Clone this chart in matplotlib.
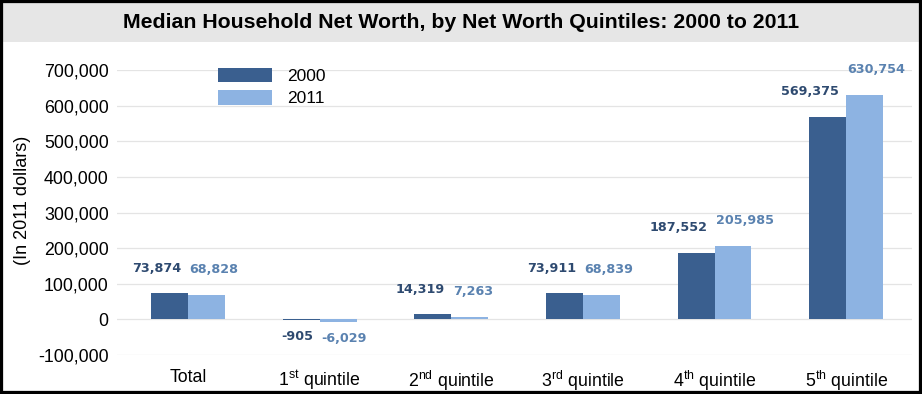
#!/usr/bin/env python3
# -*- coding: utf-8 -*-
"""
Median household net worth by net worth quintiles, 2000 vs 2011.
Grouped bar chart with value labels, saved as out.png.
"""

import numpy as np
import matplotlib.pyplot as plt
from matplotlib.patches import Rectangle

# Data (in 2011 dollars)
categories = ["Total",
              "1$^{\\mathrm{st}}$ quintile",
              "2$^{\\mathrm{nd}}$ quintile",
              "3$^{\\mathrm{rd}}$ quintile",
              "4$^{\\mathrm{th}}$ quintile",
              "5$^{\\mathrm{th}}$ quintile"]
worth_2000 = [73874, -905, 14319, 73911, 187552, 569375]
worth_2011 = [68828, -6029, 7263, 68839, 205985, 630754]
series_labels = ["2000", "2011"]
y_ticks = list(range(-100000, 700001, 100000))

DARK = "#3a5f8f"
LIGHT = "#8db3e2"
DARK_TXT = "#2e4a70"
LIGHT_TXT = "#5a82b0"

plt.rcParams['font.family'] = ['Liberation Sans', 'DejaVu Sans']
plt.rcParams['mathtext.fontset'] = 'custom'
plt.rcParams['mathtext.rm'] = 'Liberation Sans'

fig = plt.figure(figsize=(9.22, 3.94), dpi=100)
ax = fig.add_axes([117 / 922, 1 - 355 / 394, 795 / 922, 285 / 394])

x = np.arange(len(categories))
w = 0.28
ax.bar(x - w / 2, worth_2000, w, color=DARK, label=series_labels[0], zorder=3)
ax.bar(x + w / 2, worth_2011, w, color=LIGHT, label=series_labels[1], zorder=3)

# value labels: 2000 to the left of the group centre, 2011 to the right
for vals, col, dx, ha in ((worth_2000, DARK_TXT, -5, "right"),
                          (worth_2011, LIGHT_TXT, 1, "left")):
    for xi, v in zip(x, vals):
        dy = 18 if v >= 0 else -12
        ax.annotate(f"{v:,}", (xi, v), xytext=(dx, dy), textcoords="offset points",
                    ha=ha, va="center", fontsize=9.2, fontweight="bold",
                    family=["DejaVu Sans"], color=col, annotation_clip=False)

ax.set_xlim(-0.54, 5.5)
ax.set_ylim(-100000, 700000)
ax.set_yticks(y_ticks)
ax.set_yticklabels([f"{t:,}" for t in y_ticks])
ax.set_xticks(x)
ax.set_xticklabels(categories)
ax.tick_params(axis="both", length=0, labelsize=12.8)
ax.tick_params(axis="x", pad=10)
ax.tick_params(axis="y", pad=6)
ax.grid(axis="y", color="#e4e4e4", linewidth=0.9, zorder=0)
for s in ax.spines.values():
    s.set_visible(False)

ax.set_ylabel("(In 2011 dollars)", fontsize=13)
ax.yaxis.set_label_coords(-0.108, 0.544)

ax.legend(loc="upper left", bbox_to_anchor=(218 / 922, 1 - 68 / 394),
          bbox_transform=fig.transFigure, frameon=False, fontsize=12.5,
          handlelength=3.1, handleheight=0.9, labelspacing=0.35,
          handletextpad=0.9, borderpad=0, borderaxespad=0)

# title band and outer border
fig.patches.append(Rectangle((0, 1 - 42 / 394), 1, 39 / 394, transform=fig.transFigure,
                             facecolor="#e6e6e6", edgecolor="none", zorder=0))
fig.text(0.5, 1 - 23 / 394, "Median Household Net Worth, by Net Worth Quintiles: 2000 to 2011",
         ha="center", va="center", fontsize=15.3, fontweight="bold")
fig.patches.append(Rectangle((0, 0), 1, 1, transform=fig.transFigure,
                             facecolor="none", edgecolor="black", linewidth=4.5, zorder=10))

fig.savefig("out.png", dpi=100)
